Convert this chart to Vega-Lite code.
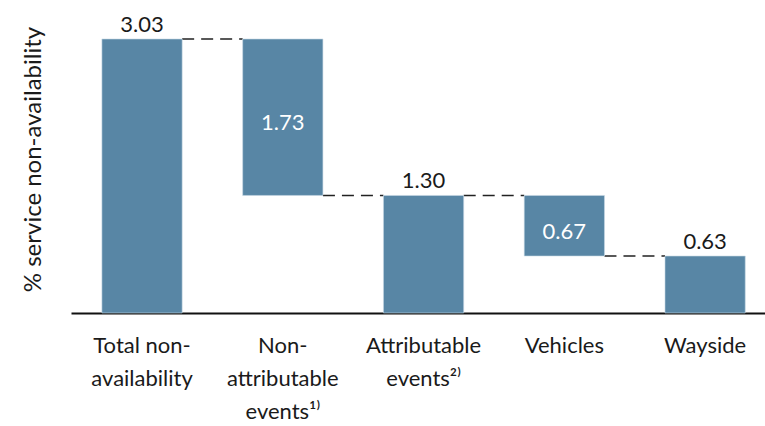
{
  "$schema": "https://vega.github.io/schema/vega-lite/v6.json",
  "width": 694,
  "height": 274,
  "autosize": {"type": "none"},
  "padding": {"left": 71, "top": 39, "right": 0, "bottom": 113},
  "background": "white",
  "config": {
    "view": {"stroke": null},
    "font": "Lato",
    "axis": {"labelFont": "Lato", "titleFont": "Lato"}
  },
  "datasets": {
    "bars": [
      {"category": "Total non-|availability", "start": 0, "end": 3.03, "label": "3.03", "kind": "total"},
      {"category": "Non-|attributable|events¹⁾", "start": 1.30, "end": 3.03, "label": "1.73", "kind": "delta"},
      {"category": "Attributable|events²⁾", "start": 0, "end": 1.30, "label": "1.30", "kind": "total"},
      {"category": "Vehicles", "start": 0.63, "end": 1.30, "label": "0.67", "kind": "delta"},
      {"category": "Wayside", "start": 0, "end": 0.63, "label": "0.63", "kind": "total"}
    ],
    "links": [
      {"from": "Total non-|availability", "to": "Non-|attributable|events¹⁾", "level": 3.03},
      {"from": "Non-|attributable|events¹⁾", "to": "Attributable|events²⁾", "level": 1.30},
      {"from": "Attributable|events²⁾", "to": "Vehicles", "level": 1.30},
      {"from": "Vehicles", "to": "Wayside", "level": 0.63}
    ]
  },
  "encoding": {
    "x": {
      "field": "category",
      "type": "nominal",
      "sort": null,
      "scale": {
        "domain": ["Total non-|availability", "Non-|attributable|events¹⁾", "Attributable|events²⁾", "Vehicles", "Wayside"],
        "paddingInner": 0.43,
        "paddingOuter": 0.18,
        "align": 0.61
      },
      "axis": {
        "title": null,
        "labelAngle": 0,
        "labelExpr": "split(datum.label, '|')",
        "labelFontSize": 22,
        "labelColor": "#1a1a1a",
        "labelLineHeight": 33,
        "labelPadding": 22,
        "labelBaseline": "top",
        "ticks": false,
        "domainColor": "#111111",
        "domainWidth": 2,
        "grid": false
      }
    }
  },
  "layer": [
    {
      "data": {"name": "links"},
      "mark": {"type": "rule", "strokeDash": [12, 7], "strokeWidth": 1.6, "color": "#222222"},
      "encoding": {
        "x": {"field": "from", "type": "nominal", "bandPosition": 1},
        "x2": {"field": "to", "bandPosition": 0},
        "y": {"field": "level", "type": "quantitative"}
      }
    },
    {
      "data": {"name": "bars"},
      "mark": {"type": "bar", "color": "#5886a5", "stroke": "#c8d8e4", "strokeWidth": 0.6},
      "encoding": {
        "y": {
          "field": "end",
          "type": "quantitative",
          "scale": {"domain": [0, 3.03], "nice": false, "zero": true},
          "axis": {
            "title": "% service non-availability",
            "titleFontSize": 24,
            "titleFontWeight": "normal",
            "titleColor": "#1a1a1a",
            "titleY": 120,
            "titlePadding": 26,
            "labels": false,
            "ticks": false,
            "domain": false,
            "grid": false
          }
        },
        "y2": {"field": "start"}
      }
    },
    {
      "data": {"name": "bars"},
      "transform": [{"filter": "datum.kind === 'total'"}],
      "mark": {"type": "text", "fontSize": 22, "color": "#1a1a1a", "baseline": "alphabetic", "dy": -7},
      "encoding": {
        "y": {"field": "end", "type": "quantitative"},
        "text": {"field": "label"}
      }
    },
    {
      "data": {"name": "bars"},
      "transform": [
        {"filter": "datum.kind === 'delta'"},
        {"calculate": "(datum.start + datum.end) / 2", "as": "mid"}
      ],
      "mark": {"type": "text", "fontSize": 22, "color": "white", "baseline": "middle", "dy": 6},
      "encoding": {
        "y": {"field": "mid", "type": "quantitative"},
        "text": {"field": "label"}
      }
    }
  ]
}
